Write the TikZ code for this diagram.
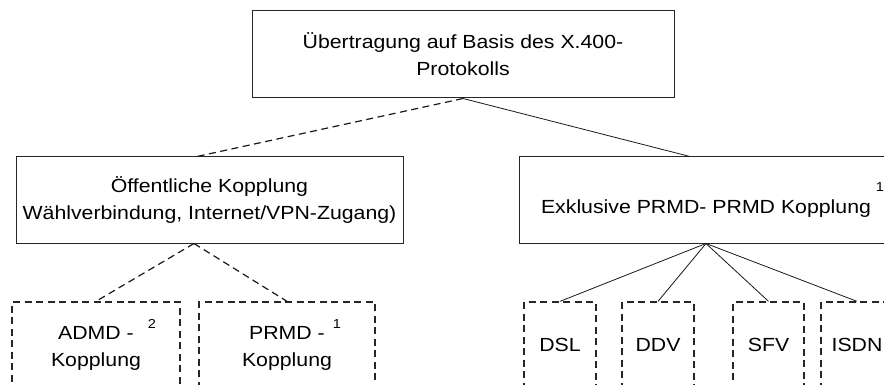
\documentclass[tikz,border=0pt]{standalone}
\usepackage{fontspec}
\setmainfont{Liberation Sans}[FakeStretch=1.12]
\newcommand{\supnum}[2]{\rlap{\hspace{#1}\raisebox{#2}{\fontsize{13}{13}\selectfont 1}}}
\newcommand{\supnumb}[2]{\rlap{\hspace{#1}\raisebox{#2}{\fontsize{13}{13}\selectfont 2}}}
\tikzset{
  box/.style={draw=black!85, line width=1pt, inner sep=0pt, align=center,
    font=\fontsize{19}{27}\selectfont},
  dbox/.style={box, line width=1.3pt, dash pattern=on 7pt off 4.5pt},
  solidlink/.style={draw=black!90, line width=0.8pt},
  dashlink/.style={draw=black!90, line width=1.2pt, dash pattern=on 7pt off 4.5pt}
}
\begin{document}
\begin{tikzpicture}[x=1pt, y=-1pt]
\useasboundingbox (0,0) rectangle (884,385);
\clip (0,0) rectangle (884,385);
\node[box, minimum width=422pt, minimum height=87pt] (top) at (463,54.5){Übertragung auf Basis des X.400-\\Protokolls};
\node[box, minimum width=387pt, minimum height=86pt] (pub) at (209.5,200){Öffentliche Kopplung\\Wählverbindung, Internet/VPN-Zugang)};
\node[box, minimum width=374pt, minimum height=86pt] (excl) at (706,200){Exklusive PRMD- PRMD Kopplung\supnum{5pt}{21pt}};
\coordinate (pubin) at ([xshift=-12.5pt]pub.north);
\coordinate (exclin) at ([xshift=-16pt]excl.north);
\coordinate (pubhub) at ([xshift=-15.5pt]pub.south);
\draw[dashlink] (top.south) -- (pubin);
\draw[solidlink] (top.south) -- (exclin);
\node[dbox, minimum width=168pt, minimum height=86pt] (admd) at (96,345){ADMD -\supnumb{14pt}{11pt}\\Kopplung};
\node[dbox, minimum width=176pt, minimum height=86pt] (prmd) at (287,345){PRMD -\supnum{8pt}{11pt}\\Kopplung};
\draw[dashlink] (pubhub) -- (admd.north);
\draw[dashlink] (pubhub) -- (prmd.north);
\node[dbox, minimum width=72pt, minimum height=86pt] (dsl) at (560,345){DSL};
\node[dbox, minimum width=72pt, minimum height=86pt] (ddv) at (658,345){DDV};
\node[dbox, minimum width=71pt, minimum height=86pt] (sfv) at (768.5,345){SFV};
\node[dbox, minimum width=72pt, minimum height=86pt] (isdn) at (857,345){ISDN};
\draw[solidlink] (excl.south) -- (dsl.north);
\draw[solidlink] (excl.south) -- (ddv.north);
\draw[solidlink] (excl.south) -- (sfv.north);
\draw[solidlink] (excl.south) -- (isdn.north);
\end{tikzpicture}
\end{document}
